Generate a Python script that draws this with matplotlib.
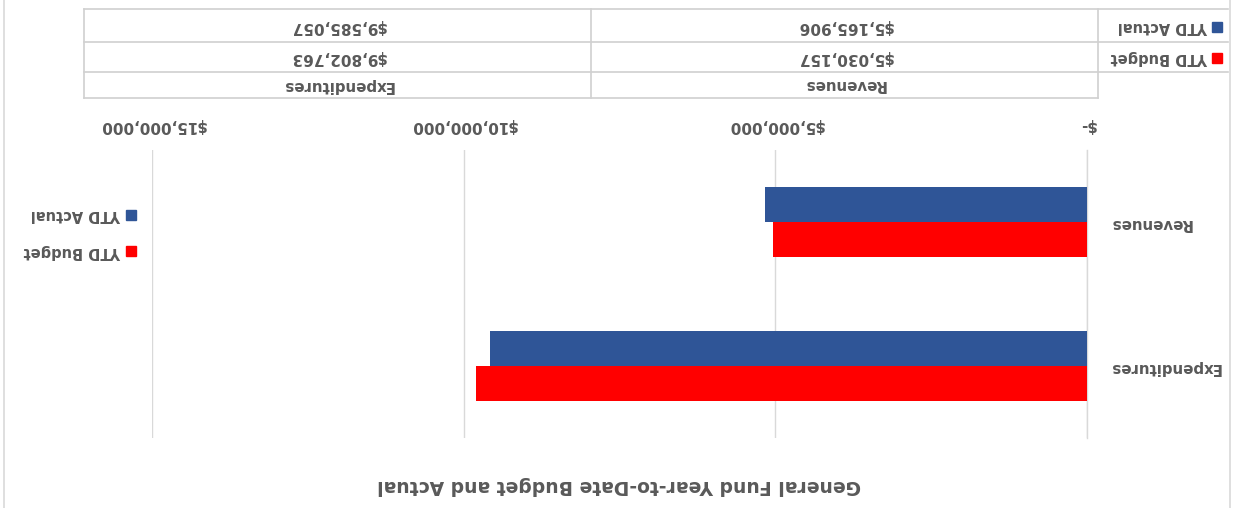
import matplotlib
matplotlib.use("Agg")
import matplotlib.pyplot as plt
from matplotlib.lines import Line2D
from matplotlib.patches import Rectangle
from matplotlib.ticker import FuncFormatter

# ---- data ----
categories = ["Expenditures", "Revenues"]
series_names = ["YTD Budget", "YTD Actual"]
ytd_budget = [9802763, 5030157]
ytd_actual = [9585057, 5165906]
x_ticks = [0, 5000000, 10000000, 15000000]
title = "General Fund Year-to-Date Budget and Actual"

RED = "#FF0000"
BLUE = "#2F5597"
TXT = "#595959"
GRID = "#D9D9D9"
FONT = "DejaVu Sans"

W, H = 1233, 508
fig = plt.figure(figsize=(W / 100, H / 100), dpi=100)
fig.patch.set_facecolor("white")

def fx(px):
    return px / W

def fy(py):
    return 1 - py / H

# overlay in pixel coordinates (for table, legend, title, frame)
ov = fig.add_axes([0, 0, 1, 1], zorder=0)
ov.set_xlim(0, W)
ov.set_ylim(H, 0)
ov.axis("off")
ov.patch.set_alpha(0)

# main plot area (rotated 180 degrees: x grows leftward, categories on right)
left, right, top, bottom = 152, 1087, 150, 438
ax = fig.add_axes([fx(left), fy(bottom), fx(right) - fx(left), fy(top) - fy(bottom)], zorder=1)
ax.patch.set_alpha(0)
ax.set_xlim(15000000, 0)
ax.set_ylim(-0.5, 1.5)

bw = 0.24
ypos = list(range(len(categories)))
ax.barh([y - bw / 2 for y in ypos], ytd_budget, height=bw, color=RED, zorder=3)
ax.barh([y + bw / 2 for y in ypos], ytd_actual, height=bw, color=BLUE, zorder=3)

ax.set_xticks(x_ticks)
ax.xaxis.set_major_formatter(FuncFormatter(lambda v, p: "$-" if v == 0 else "${:,.0f}".format(v)))
ax.xaxis.tick_top()
ax.set_yticks(ypos)
ax.set_yticklabels(categories)
ax.yaxis.tick_right()
ax.tick_params(axis="x", length=0, pad=12, labelsize=11, labelcolor=TXT, labelrotation=180)
ax.tick_params(axis="y", length=0, pad=16, labelsize=10.8, labelcolor=TXT, labelrotation=180)
for lab in ax.get_xticklabels() + ax.get_yticklabels():
    lab.set_fontweight("bold")
    lab.set_family(FONT)
for lab in ax.get_yticklabels():
    lab.set_horizontalalignment("left")
ax.grid(axis="x", color=GRID, linewidth=1, zorder=0)
for s in ["top", "bottom", "left"]:
    ax.spines[s].set_visible(False)
ax.spines["right"].set_color(GRID)
ax.spines["right"].set_linewidth(1)

# ---- title ----
ov.text(619, 485, title, rotation=180, ha="center", va="center", fontsize=13.5,
        fontweight="bold", color=TXT, family=FONT)

# ---- chart frame ----
ov.add_line(Line2D([4, 4], [0, H], color=GRID, lw=1.2))
ov.add_line(Line2D([1230, 1230], [0, H], color=GRID, lw=1.2))

# ---- legend (left side) ----
leg_items = [(BLUE, series_names[1], 215), (RED, series_names[0], 251)]
for col, name, yy in leg_items:
    ov.add_patch(Rectangle((126, yy - 5), 10, 10, color=col))
    ov.text(121, yy, name, rotation=180, ha="right", va="center", fontsize=10.5,
            fontweight="bold", color=TXT, family=FONT)

# ---- data table (top) ----
tcol = [84, 591, 1098, 1228]
trow = [9, 42, 72, 98]
lc = "#D0D0D0"
ov.add_line(Line2D([tcol[0], tcol[3]], [trow[0], trow[0]], color=lc, lw=1.2))
ov.add_line(Line2D([tcol[0], tcol[3]], [trow[1], trow[1]], color=lc, lw=1.2))
ov.add_line(Line2D([tcol[0], tcol[3]], [trow[2], trow[2]], color=lc, lw=1.2))
ov.add_line(Line2D([tcol[0], tcol[2]], [trow[3], trow[3]], color=lc, lw=1.2))
ov.add_line(Line2D([tcol[0], tcol[0]], [trow[0], trow[3]], color=lc, lw=1.2))
ov.add_line(Line2D([tcol[1], tcol[1]], [trow[0], trow[3]], color=lc, lw=1.2))
ov.add_line(Line2D([tcol[2], tcol[2]], [trow[0], trow[3]], color=lc, lw=1.2))

col_centers = {"Expenditures": (tcol[0] + tcol[1]) / 2, "Revenues": (tcol[1] + tcol[2]) / 2}
row_actual = (trow[0] + trow[1]) / 2 + 1
row_budget = (trow[1] + trow[2]) / 2 + 1
row_head = (trow[2] + trow[3]) / 2

for i, cat in enumerate(categories):
    cx = col_centers[cat]
    ov.text(cx, row_head, cat, rotation=180, ha="center", va="center", fontsize=10.8,
            fontweight="bold", color=TXT, family=FONT)
    ov.text(cx, row_budget, "${:,.0f}".format(ytd_budget[i]), rotation=180, ha="center",
            va="center", fontsize=11, fontweight="bold", color=TXT, family=FONT)
    ov.text(cx, row_actual, "${:,.0f}".format(ytd_actual[i]), rotation=180, ha="center",
            va="center", fontsize=11, fontweight="bold", color=TXT, family=FONT)

for name, col, yy in [(series_names[1], BLUE, row_actual), (series_names[0], RED, row_budget)]:
    ov.add_patch(Rectangle((1212, yy - 5), 10, 10, color=col))
    ov.text(1208, yy, name, rotation=180, ha="right", va="center", fontsize=10.5,
            fontweight="bold", color=TXT, family=FONT)

fig.savefig("out.png", dpi=100, facecolor="white")
